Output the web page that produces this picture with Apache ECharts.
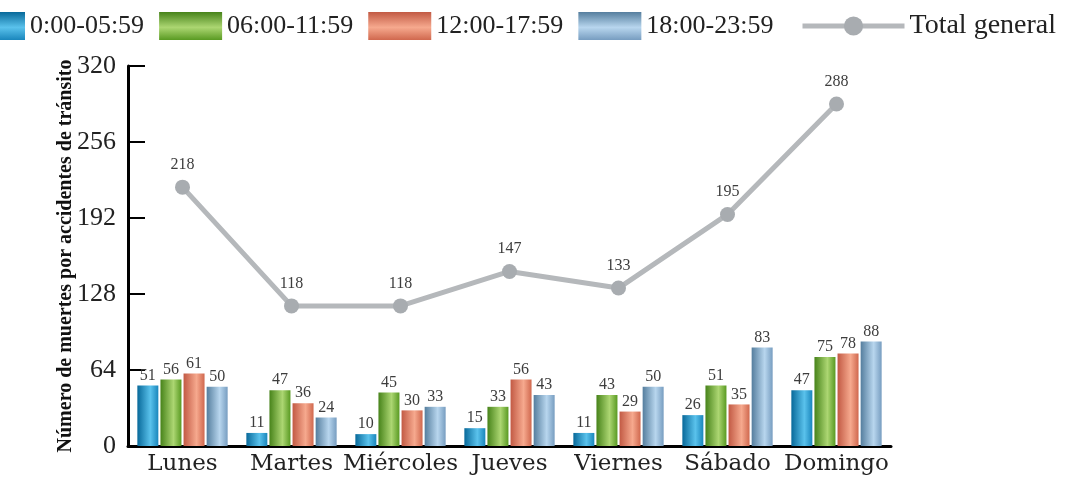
<!DOCTYPE html>
<html lang="es" style="height: 100%">
<head>
    <meta charset="utf-8">
    <title>Muertes por accidentes de tránsito</title>
    <script src="https://cdn.jsdelivr.net/npm/echarts@6/dist/echarts.min.js"></script>
</head>
<body style="height: 100%; margin: 0; background: #fff">
    <div id="main" style="width: 1066px; height: 478px"></div>
    <script type="text/javascript">
        // datos
        var dias = ['Lunes', 'Martes', 'Miércoles', 'Jueves', 'Viernes', 'Sábado', 'Domingo'];
        var franjas = ['0:00-05:59', '06:00-11:59', '12:00-17:59', '18:00-23:59'];
        var madrugada = [51, 11, 10, 15, 11, 26, 47];
        var manana = [56, 47, 45, 33, 43, 51, 75];
        var tarde = [61, 36, 30, 56, 29, 35, 78];
        var noche = [50, 24, 33, 43, 50, 83, 88];
        var totalGeneral = [218, 118, 118, 147, 133, 195, 288];
        var ejeY = [0, 64, 128, 192, 256, 320];

        // colores: [oscuro, claro, borde]
        var tonos = [
            ['#08699a', '#5ac2ec', '#1a86bc'],
            ['#47831a', '#acd672', '#599a22'],
            ['#c25a44', '#f6a98e', '#d0684e'],
            ['#557e9e', '#b8d6ee', '#779dc0']
        ];

        function gradH(t) {
            return new echarts.graphic.LinearGradient(0, 0, 1, 0, [
                { offset: 0, color: t[0] },
                { offset: 0.62, color: t[1] },
                { offset: 1, color: t[2] }
            ]);
        }
        function gradV(t) {
            return new echarts.graphic.LinearGradient(0, 0, 0, 1, [
                { offset: 0, color: t[0] },
                { offset: 0.55, color: t[1] },
                { offset: 1, color: t[2] }
            ]);
        }

        var valores = [madrugada, manana, tarde, noche];
        var series = [];
        for (var i = 0; i < 4; i++) {
            series.push({
                name: franjas[i],
                type: 'bar',
                barWidth: 21,
                barGap: '10%',
                data: valores[i],
                itemStyle: { color: gradH(tonos[i]) },
                label: {
                    show: true,
                    position: 'top',
                    distance: 2,
                    fontFamily: 'Liberation Serif',
                    fontSize: 16,
                    color: '#3d3d3d'
                }
            });
        }
        series.push({
            name: 'Total general',
            type: 'line',
            data: totalGeneral,
            symbol: 'circle',
            symbolSize: 15,
            lineStyle: { color: '#b5b8bb', width: 5 },
            itemStyle: { color: '#a8acb0' },
            label: {
                show: true,
                position: 'top',
                distance: 7,
                fontFamily: 'Liberation Serif',
                fontSize: 16,
                color: '#3d3d3d'
            },
            z: 5
        });

        var myChart = echarts.init(document.getElementById('main'));
        var option = {
            animation: false,
            legend: [
                {
                    left: -43,
                    top: 7,
                    itemWidth: 63,
                    itemHeight: 28,
                    itemGap: 15,
                    icon: 'rect',
                    data: franjas.map(function (n, k) {
                        return { name: n, itemStyle: { color: gradV(tonos[k]) } };
                    }),
                    textStyle: { fontFamily: 'Liberation Serif', fontSize: 26, color: '#222' }
                },
                {
                    left: 795,
                    top: 7,
                    itemWidth: 102,
                    itemHeight: 24,
                    data: ['Total general'],
                    lineStyle: { width: 5, color: '#b5b8bb' },
                    textStyle: { fontFamily: 'Liberation Serif', fontSize: 28, color: '#222' }
                }
            ],
            grid: { left: 128, right: 175, top: 66, bottom: 32 },
            xAxis: {
                type: 'category',
                data: dias,
                axisLine: { lineStyle: { color: '#000', width: 3 } },
                axisTick: { inside: true, length: 9, lineStyle: { color: '#000', width: 2 } },
                axisLabel: { interval: 0, fontFamily: 'DejaVu Serif', fontSize: 23, color: '#222', margin: 7 }
            },
            yAxis: {
                type: 'value',
                min: ejeY[0],
                max: ejeY[ejeY.length - 1],
                interval: ejeY[1] - ejeY[0],
                name: 'Número de muertes por accidentes de tránsito',
                nameLocation: 'middle',
                nameGap: 52,
                nameMoveOverlap: false,
                nameTextStyle: { fontFamily: 'Liberation Serif', fontWeight: 'bold', fontSize: 20, color: '#111' },
                splitLine: { show: false },
                axisLine: { show: true, lineStyle: { color: '#000', width: 3 } },
                axisTick: { show: true, inside: true, length: 17, lineStyle: { color: '#000', width: 2 } },
                axisLabel: { fontFamily: 'Liberation Serif', fontSize: 26, color: '#222', margin: 12 }
            },
            series: series
        };
        myChart.setOption(option);
    </script>
</body>
</html>
